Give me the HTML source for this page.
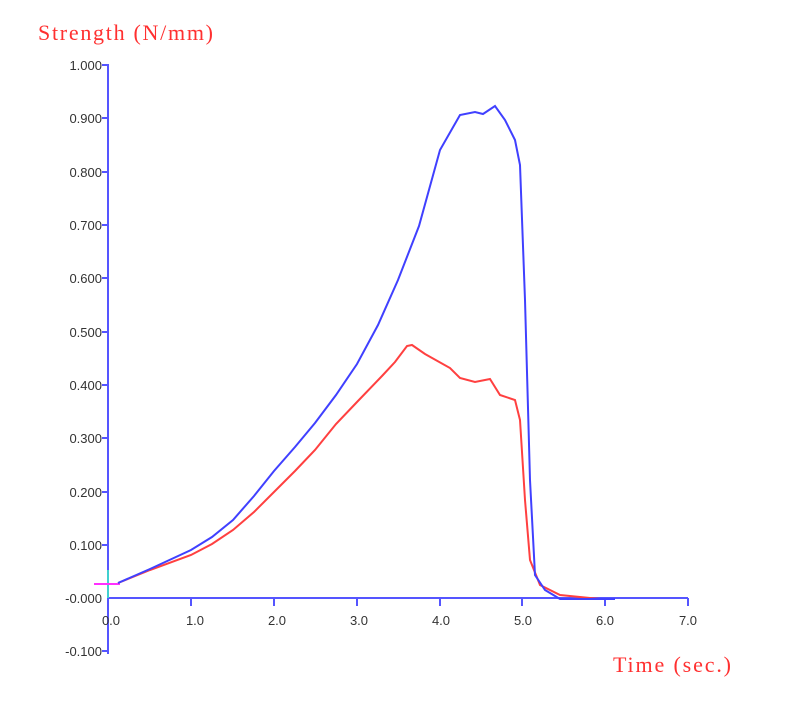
<!DOCTYPE html>
<html><head><style>body{margin:0;background:#fff}svg{display:block}</style></head><body>
<svg width="789" height="722" xmlns="http://www.w3.org/2000/svg" font-family="Liberation Sans, sans-serif">
<text x="38" y="40" fill="#ff3030" font-family="Liberation Serif, serif" font-size="22" textLength="175">Strength (N/mm)</text>
<text x="613" y="672" fill="#ff3030" font-family="Liberation Serif, serif" font-size="22" textLength="118">Time (sec.)</text>
<g stroke="#5555ff" stroke-width="2" fill="none">
<line x1="108" y1="64" x2="108" y2="654"/>
<line x1="108" y1="598" x2="688" y2="598"/>
<path d="M102,65H108M102,118H108M102,172H108M102,225H108M102,278H108M102,332H108M102,385H108M102,438H108M102,492H108M102,545H108M102,651H108"/>
<path d="M191,598V606M274,598V606M357,598V606M440,598V606M522,598V606M605,598V606M688,598V606"/>
</g>
<g font-size="13" fill="#333" text-anchor="end">
<text x="102" y="70">1.000</text><text x="102" y="123">0.900</text><text x="102" y="177">0.800</text>
<text x="102" y="230">0.700</text><text x="102" y="283">0.600</text><text x="102" y="337">0.500</text>
<text x="102" y="390">0.400</text><text x="102" y="443">0.300</text><text x="102" y="497">0.200</text>
<text x="102" y="550">0.100</text><text x="102" y="603">-0.000</text><text x="102" y="656">-0.100</text>
</g>
<g font-size="13" fill="#333" text-anchor="middle">
<text x="111" y="625">0.0</text><text x="195" y="625">1.0</text><text x="277" y="625">2.0</text>
<text x="359" y="625">3.0</text><text x="441" y="625">4.0</text><text x="523" y="625">5.0</text>
<text x="605" y="625">6.0</text><text x="688" y="625">7.0</text>
</g>
<line x1="108" y1="570" x2="108" y2="598" stroke="#40d0d0" stroke-width="2"/>
<line x1="94" y1="584" x2="120" y2="584" stroke="#ff30ff" stroke-width="2"/>
<polyline fill="none" stroke="#ff4040" stroke-width="2" points="118,583 150,570 191,555 212,544 233,530 254,512 274,492 295,471 315,450 336,424 357,402 382,376 395,362 407,346 412,345 425,354 450,368 460,378 475,382 490,379 500,395 515,400 520,420 525,500 530,560 540,585 560,595 600,599 615,599"/>
<polyline fill="none" stroke="#4040ff" stroke-width="2" points="118,583 150,569 191,550 212,537 233,520 254,496 274,471 295,447 315,423 336,395 357,364 378,325 398,280 419,226 440,150 460,115 475,112 483,114 495,106 505,120 515,140 520,165 525,300 530,480 535,575 545,590 560,599 615,599"/>
</svg>
</body></html>
